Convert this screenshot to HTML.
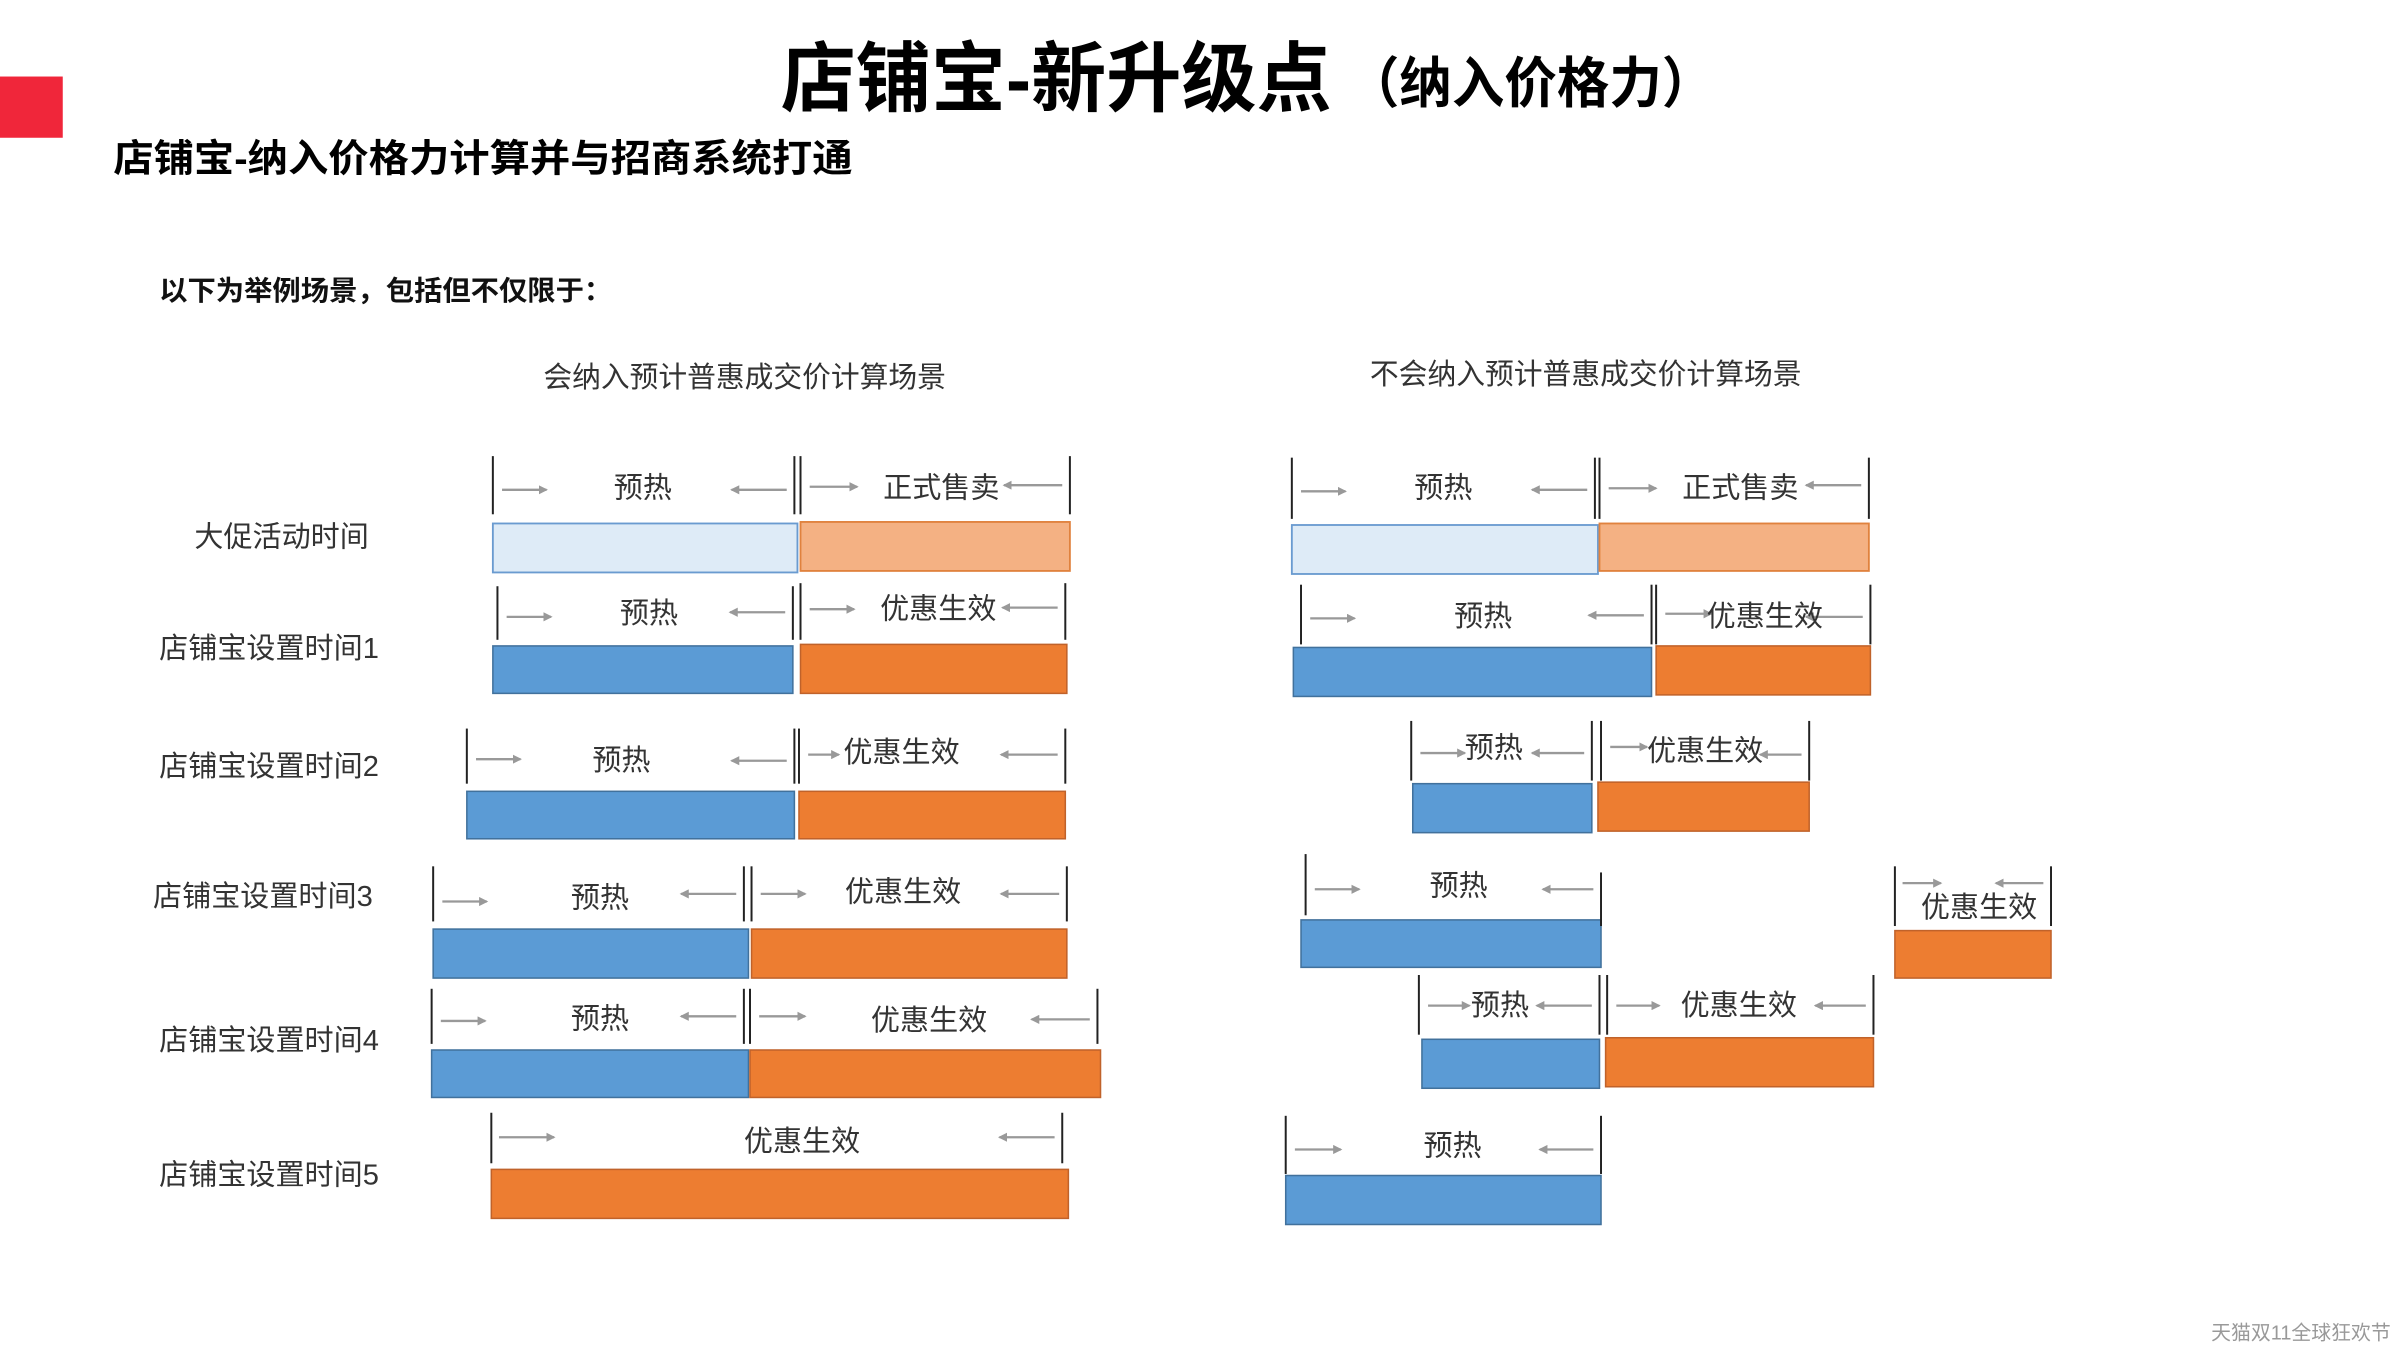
<!DOCTYPE html>
<html><head><meta charset="utf-8"><style>
html,body{margin:0;padding:0;background:#fff;}
svg{display:block;}
text{font-family:"Liberation Sans","Noto Sans CJK SC",sans-serif;}
.t{font-size:19px;fill:#333;}
.lbl{font-size:19px;fill:#333;text-anchor:middle;}
.b{stroke:#222;stroke-width:1.3;}
.a{stroke:#999;stroke-width:1.5;marker-end:url(#ah);}
</style></head><body>
<svg width="2400" height="1350" viewBox="0 0 1568 882" xmlns="http://www.w3.org/2000/svg">
<defs><marker id="ah" markerWidth="6" markerHeight="6" refX="5" refY="3" orient="auto" markerUnits="userSpaceOnUse"><path d="M0,0 L6,3 L0,6 z" fill="#999"/></marker></defs>
<rect x="0" y="50" width="41" height="40" fill="#f0263a"/>
<text x="510" y="69" font-size="50" font-weight="bold" textLength="360" lengthAdjust="spacingAndGlyphs" fill="#000">店铺宝-新升级点</text>
<text x="880" y="67" font-size="36" font-weight="bold" textLength="240" lengthAdjust="spacingAndGlyphs" fill="#000">（纳入价格力）</text>
<text x="74" y="112" font-size="25" font-weight="bold" textLength="483" lengthAdjust="spacingAndGlyphs" fill="#000">店铺宝-纳入价格力计算并与招商系统打通</text>
<text x="104" y="196" font-size="18" font-weight="bold" textLength="296" lengthAdjust="spacingAndGlyphs" fill="#111">以下为举例场景，包括但不仅限于：</text>
<text x="355" y="253" class="t" textLength="263" lengthAdjust="spacingAndGlyphs">会纳入预计普惠成交价计算场景</text>
<text x="895" y="251" class="t" textLength="282" lengthAdjust="spacingAndGlyphs">不会纳入预计普惠成交价计算场景</text>

<text x="127" y="357" class="t">大促活动时间</text>
<text x="104" y="430" class="t">店铺宝设置时间1</text>
<text x="104" y="507" class="t">店铺宝设置时间2</text>
<text x="100" y="592" class="t">店铺宝设置时间3</text>
<text x="104" y="686" class="t">店铺宝设置时间4</text>
<text x="104" y="774" class="t">店铺宝设置时间5</text>

<!-- LEFT -->
<!-- row0 -->
<rect x="322" y="342" width="199" height="32" fill="#deebf7" stroke="#6a9bd0" stroke-width="1.2"/>
<rect x="523" y="341" width="176" height="32" fill="#f4b183" stroke="#e0823e" stroke-width="1.2"/>
<line class="b" x1="322" y1="298" x2="322" y2="336"/><line class="b" x1="519" y1="298" x2="519" y2="336"/>
<line class="b" x1="523" y1="298" x2="523" y2="336"/><line class="b" x1="699" y1="298" x2="699" y2="336"/>
<line class="a" x1="328" y1="320" x2="357" y2="320"/><line class="a" x1="514" y1="320" x2="478" y2="320"/>
<line class="a" x1="529" y1="318" x2="560" y2="318"/><line class="a" x1="694" y1="317" x2="656" y2="317"/>
<text class="lbl" x="420" y="325">预热</text><text class="lbl" x="615" y="325">正式售卖</text>
<!-- row1 -->
<rect x="322" y="422" width="196" height="31" fill="#5b9bd5" stroke="#41719c"/>
<rect x="523" y="421" width="174" height="32" fill="#ed7d31" stroke="#c0622a"/>
<line class="b" x1="325" y1="383" x2="325" y2="418"/><line class="b" x1="518" y1="383" x2="518" y2="418"/>
<line class="b" x1="523" y1="381" x2="523" y2="418"/><line class="b" x1="696" y1="381" x2="696" y2="418"/>
<line class="a" x1="331" y1="403" x2="360" y2="403"/><line class="a" x1="513" y1="400" x2="477" y2="400"/>
<line class="a" x1="529" y1="398" x2="558" y2="398"/><line class="a" x1="691" y1="397" x2="655" y2="397"/>
<text class="lbl" x="424" y="407">预热</text><text class="lbl" x="613" y="404">优惠生效</text>
<!-- row2 -->
<rect x="305" y="517" width="214" height="31" fill="#5b9bd5" stroke="#41719c"/>
<rect x="522" y="517" width="174" height="31" fill="#ed7d31" stroke="#c0622a"/>
<line class="b" x1="305" y1="476" x2="305" y2="512"/><line class="b" x1="519" y1="476" x2="519" y2="512"/>
<line class="b" x1="522" y1="476" x2="522" y2="512"/><line class="b" x1="696" y1="476" x2="696" y2="512"/>
<line class="a" x1="311" y1="496" x2="340" y2="496"/><line class="a" x1="514" y1="497" x2="478" y2="497"/>
<line class="a" x1="528" y1="493" x2="548" y2="493"/><line class="a" x1="691" y1="493" x2="654" y2="493"/>
<text class="lbl" x="406" y="503">预热</text><text class="lbl" x="589" y="498">优惠生效</text>
<!-- row3 -->
<rect x="283" y="607" width="206" height="32" fill="#5b9bd5" stroke="#41719c"/>
<rect x="491" y="607" width="206" height="32" fill="#ed7d31" stroke="#c0622a"/>
<line class="b" x1="283" y1="566" x2="283" y2="602"/><line class="b" x1="486" y1="566" x2="486" y2="602"/>
<line class="b" x1="491" y1="566" x2="491" y2="602"/><line class="b" x1="697" y1="566" x2="697" y2="602"/>
<line class="a" x1="289" y1="589" x2="318" y2="589"/><line class="a" x1="481" y1="584" x2="445" y2="584"/>
<line class="a" x1="497" y1="584" x2="526" y2="584"/><line class="a" x1="692" y1="584" x2="654" y2="584"/>
<text class="lbl" x="392" y="593">预热</text><text class="lbl" x="590" y="589">优惠生效</text>
<!-- row4 -->
<rect x="282" y="686" width="207" height="31" fill="#5b9bd5" stroke="#41719c"/>
<rect x="490" y="686" width="229" height="31" fill="#ed7d31" stroke="#c0622a"/>
<line class="b" x1="282" y1="646" x2="282" y2="682"/><line class="b" x1="486" y1="646" x2="486" y2="682"/>
<line class="b" x1="490" y1="646" x2="490" y2="682"/><line class="b" x1="717" y1="646" x2="717" y2="682"/>
<line class="a" x1="288" y1="667" x2="317" y2="667"/><line class="a" x1="481" y1="664" x2="445" y2="664"/>
<line class="a" x1="496" y1="664" x2="526" y2="664"/><line class="a" x1="712" y1="666" x2="674" y2="666"/>
<text class="lbl" x="392" y="672">预热</text><text class="lbl" x="607" y="673">优惠生效</text>
<!-- row5 -->
<rect x="321" y="764" width="377" height="32" fill="#ed7d31" stroke="#c0622a"/>
<line class="b" x1="321" y1="727" x2="321" y2="760"/><line class="b" x1="694" y1="727" x2="694" y2="760"/>
<line class="a" x1="326" y1="743" x2="362" y2="743"/><line class="a" x1="689" y1="743" x2="653" y2="743"/>
<text class="lbl" x="524" y="752">优惠生效</text>

<!-- RIGHT -->
<!-- row0 -->
<rect x="844" y="343" width="200" height="32" fill="#deebf7" stroke="#6a9bd0" stroke-width="1.2"/>
<rect x="1045" y="342" width="176" height="31" fill="#f4b183" stroke="#e0823e" stroke-width="1.2"/>
<line class="b" x1="844" y1="299" x2="844" y2="339"/><line class="b" x1="1042" y1="299" x2="1042" y2="339"/>
<line class="b" x1="1045" y1="299" x2="1045" y2="339"/><line class="b" x1="1221" y1="299" x2="1221" y2="339"/>
<line class="a" x1="850" y1="321" x2="879" y2="321"/><line class="a" x1="1037" y1="320" x2="1001" y2="320"/>
<line class="a" x1="1051" y1="319" x2="1082" y2="319"/><line class="a" x1="1216" y1="317" x2="1180" y2="317"/>
<text class="lbl" x="943" y="325">预热</text><text class="lbl" x="1137" y="325">正式售卖</text>
<!-- row1 -->
<rect x="845" y="423" width="234" height="32" fill="#5b9bd5" stroke="#41719c"/>
<rect x="1082" y="422" width="140" height="32" fill="#ed7d31" stroke="#c0622a"/>
<line class="b" x1="850" y1="382" x2="850" y2="421"/><line class="b" x1="1079" y1="382" x2="1079" y2="421"/>
<line class="b" x1="1082" y1="382" x2="1082" y2="421"/><line class="b" x1="1222" y1="382" x2="1222" y2="421"/>
<line class="a" x1="856" y1="404" x2="885" y2="404"/><line class="a" x1="1074" y1="402" x2="1038" y2="402"/>
<line class="a" x1="1088" y1="401" x2="1118" y2="401"/><line class="a" x1="1217" y1="403" x2="1180" y2="403"/>
<text class="lbl" x="969" y="409">预热</text><text class="lbl" x="1153" y="409">优惠生效</text>
<!-- row2 -->
<rect x="923" y="512" width="117" height="32" fill="#5b9bd5" stroke="#41719c"/>
<rect x="1044" y="511" width="138" height="32" fill="#ed7d31" stroke="#c0622a"/>
<line class="b" x1="922" y1="471" x2="922" y2="510"/><line class="b" x1="1040" y1="471" x2="1040" y2="510"/>
<line class="b" x1="1046" y1="471" x2="1046" y2="510"/><line class="b" x1="1182" y1="471" x2="1182" y2="510"/>
<line class="a" x1="928" y1="492" x2="957" y2="492"/><line class="a" x1="1035" y1="492" x2="1001" y2="492"/>
<line class="a" x1="1052" y1="488" x2="1076" y2="488"/><line class="a" x1="1177" y1="493" x2="1150" y2="493"/>
<text class="lbl" x="976" y="495">预热</text><text class="lbl" x="1114" y="497">优惠生效</text>
<!-- row3 -->
<rect x="850" y="601" width="196" height="31" fill="#5b9bd5" stroke="#41719c"/>
<line class="b" x1="853" y1="558" x2="853" y2="598"/><line class="b" x1="1046" y1="570" x2="1046" y2="605"/>
<line class="a" x1="859" y1="581" x2="888" y2="581"/><line class="a" x1="1041" y1="581" x2="1008" y2="581"/>
<text class="lbl" x="953" y="585">预热</text>
<rect x="1238" y="608" width="102" height="31" fill="#ed7d31" stroke="#c0622a"/>
<line class="b" x1="1238" y1="566" x2="1238" y2="605"/><line class="b" x1="1340" y1="566" x2="1340" y2="605"/>
<line class="a" x1="1243" y1="577" x2="1268" y2="577"/><line class="a" x1="1335" y1="577" x2="1304" y2="577"/>
<text class="lbl" x="1293" y="599">优惠生效</text>
<!-- row4 -->
<rect x="929" y="679" width="116" height="32" fill="#5b9bd5" stroke="#41719c"/>
<rect x="1049" y="678" width="175" height="32" fill="#ed7d31" stroke="#c0622a"/>
<line class="b" x1="927" y1="637" x2="927" y2="676"/><line class="b" x1="1045" y1="637" x2="1045" y2="676"/>
<line class="b" x1="1050" y1="637" x2="1050" y2="676"/><line class="b" x1="1224" y1="637" x2="1224" y2="676"/>
<line class="a" x1="933" y1="657" x2="960" y2="657"/><line class="a" x1="1040" y1="657" x2="1004" y2="657"/>
<line class="a" x1="1056" y1="657" x2="1084" y2="657"/><line class="a" x1="1219" y1="657" x2="1186" y2="657"/>
<text class="lbl" x="980" y="663">预热</text><text class="lbl" x="1136" y="663">优惠生效</text>
<!-- row5 -->
<rect x="840" y="768" width="206" height="32" fill="#5b9bd5" stroke="#41719c"/>
<line class="b" x1="840" y1="729" x2="840" y2="767"/><line class="b" x1="1046" y1="729" x2="1046" y2="767"/>
<line class="a" x1="846" y1="751" x2="876" y2="751"/><line class="a" x1="1041" y1="751" x2="1006" y2="751"/>
<text class="lbl" x="949" y="755">预热</text>

<text x="1562" y="875" font-size="13" fill="#999" text-anchor="end">天猫双11全球狂欢节</text>
</svg>
</body></html>
